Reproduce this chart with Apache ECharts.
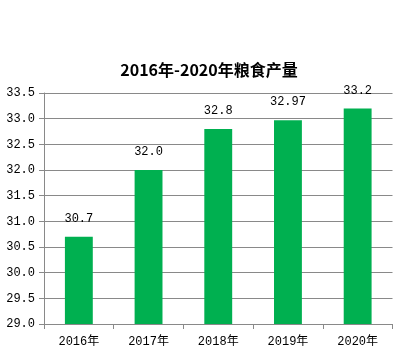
<!DOCTYPE html>
<html><head><meta charset="utf-8">
<script src="https://cdn.jsdelivr.net/npm/echarts@6/dist/echarts.min.js"></script>
<style>html,body{margin:0;padding:0;background:#fff}#c{width:418px;height:356px}</style>
</head><body><div id="c"></div>
<script>
const categories = ['2016年','2017年','2018年','2019年','2020年'];
const values = [30.7, 32.0, 32.8, 32.97, 33.2];
const valueLabels = ['30.7','32.0','32.8','32.97','33.2'];
const titleText = '2016年-2020年粮食产量';

const chart = echarts.init(document.getElementById('c'), null, {renderer:'canvas'});
const mono = '"Liberation Mono", "DejaVu Sans Mono", "Noto Sans CJK SC", monospace';
chart.setOption({
  animation:false,
  title:{text:titleText,left:'center',top:57,
    textStyle:{fontFamily:'"Noto Sans CJK SC", sans-serif',fontSize:16,fontWeight:'bold',color:'#000'}},
  grid:{left:44,right:25.5,top:93,bottom:32},
  xAxis:{type:'category',data:categories,
    axisLine:{lineStyle:{color:'#898989'}},
    axisTick:{show:true,alignWithLabel:false,length:5,lineStyle:{color:'#898989'}},
    axisLabel:{color:'#000',fontFamily:mono,fontSize:12,margin:12}},
  yAxis:{type:'value',min:29,max:33.5,interval:0.5,
    axisLine:{show:true,lineStyle:{color:'#898989'}},
    axisTick:{show:true,length:5,lineStyle:{color:'#898989'}},
    splitLine:{lineStyle:{color:'#898989'}},
    axisLabel:{color:'#000',fontFamily:mono,fontSize:12,margin:9,formatter:v=>v.toFixed(1)}},
  series:[{type:'bar',data:values,barWidth:'40%',itemStyle:{color:'#00B050'},
    label:{show:true,position:'top',distance:12,color:'#000',fontFamily:mono,fontSize:12,
      formatter:p=>valueLabels[p.dataIndex]}}]
});
</script></body></html>
